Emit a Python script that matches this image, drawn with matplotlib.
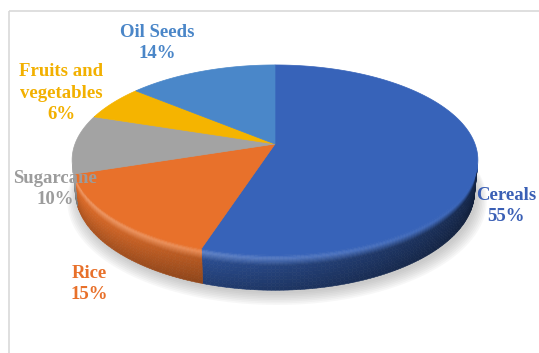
import numpy as np
import matplotlib.pyplot as plt
from matplotlib.collections import PolyCollection
from matplotlib.colors import to_rgb
from matplotlib.patches import Rectangle, Polygon

# data
crops = ['Cereals', 'Rice', 'Sugarcane', 'Fruits and\nvegetables', 'Oil Seeds']
shares = [55, 15, 10, 6, 14]
colors = ['#3763b9', '#e8712b', '#a3a3a3', '#f5b400', '#4a87c9']
label_colors = ['#3a5fb5', '#e8702a', '#9c9c9c', '#f2b000', '#4a86c8']
# label centres in pixels (layout)
label_pos = [(506, 206), (89, 284), (55, 189), (61, 93), (157, 43)]

# view of the tilted pie
elev = np.radians(27.5)
dist = 5.27
focal = 200 * dist
cx, cy = 275, 144
depth = 0.178
s_e, c_e = np.sin(elev), np.cos(elev)


def project(t, z=0.0, r=1.0):
    X = r * np.cos(t)
    Y = r * np.sin(t)
    vy = Y + dist * c_e
    vz = z - dist * s_e
    yc = vy * s_e + vz * c_e
    zc = vy * c_e - vz * s_e
    return cx + focal * X / zc, cy - focal * yc / zc


def mix(a, b, w):
    return tuple(a[i] * (1 - w) + b[i] * w for i in range(3))


def side_colour(base, t, v):
    fh = np.clip(0.69 - 0.29 * np.cos(t), 0.35, 0.95)
    side = tuple(c * fh for c in base)
    hl = 0.3 * (1 - np.cos(t)) / 2
    light = tuple(c + (1 - c) * hl for c in base)
    if v < 0.1:
        return mix(base, light, v / 0.1)
    if v < 0.3:
        return mix(light, side, (v - 0.1) / 0.2)
    return tuple(c * (1 - 0.22 * (v - 0.3) / 0.7) for c in side)


fig = plt.figure(figsize=(5.39, 3.53), dpi=100)
ax = fig.add_axes([0, 0, 1, 1])
ax.set_xlim(0, 539)
ax.set_ylim(353, 0)
ax.axis('off')

ax.add_patch(Rectangle((8.5, 10.5), 540, 350, fill=False, edgecolor='#d9d9d9', lw=1.2))

# slice angles, clockwise from 12 o'clock
cum = np.concatenate([[0], np.cumsum(shares)]) / sum(shares)
angles = np.radians(90 - 360 * cum)

# soft shadow
tt = np.linspace(0, 2 * np.pi, 200)
for k in range(8):
    sx, sy = project(tt, -depth, 1.0 + 0.007 * k)
    ax.add_patch(Polygon(np.column_stack([sx + 2, sy + 3 + 0.7 * k]), closed=True,
                         facecolor='#808080', edgecolor='none', alpha=0.06, zorder=1))

# visible part of the rim
k_vis = np.arcsin(1 / (dist * c_e))
vis_lo, vis_hi = -np.pi + k_vis, -k_vis
rows = np.concatenate([np.linspace(0, 0.3, 10), np.linspace(0.3, 1, 8)[1:]])

for i in range(len(shares)):
    a0, a1 = angles[i], angles[i + 1]
    lo, hi = max(a1, vis_lo), min(a0, vis_hi)
    if lo >= hi:
        continue
    base = to_rgb(colors[i])
    ts = np.linspace(lo, hi, max(3, int(np.degrees(hi - lo)) + 1))
    quads, cols = [], []
    for j in range(len(ts) - 1):
        for r in range(len(rows) - 1):
            t0, t1 = ts[j], ts[j + 1]
            z0, z1 = -depth * rows[r], -depth * rows[r + 1]
            p = [project(t0, z0), project(t1, z0), project(t1, z1), project(t0, z1)]
            quads.append(p)
            cols.append(side_colour(base, (t0 + t1) / 2, (rows[r] + rows[r + 1]) / 2))
    ax.add_collection(PolyCollection(quads, facecolors=cols, edgecolors=cols,
                                     linewidths=0.4, zorder=2))

# top faces
for i in range(len(shares)):
    ts = np.linspace(angles[i], angles[i + 1], 120)
    px, py = project(ts)
    pts = np.vstack([[cx, cy], np.column_stack([px, py])])
    ax.add_patch(Polygon(pts, closed=True, facecolor=colors[i], edgecolor=colors[i],
                         lw=0.5, zorder=3))

for i in range(len(shares)):
    ax.text(label_pos[i][0], label_pos[i][1], f'{crops[i]}\n{shares[i]}%',
            ha='center', va='center', multialignment='center',
            color=label_colors[i], fontsize=13.5, fontweight='bold',
            family='Liberation Serif', linespacing=1.38, zorder=5)

fig.savefig('out.png', dpi=100)
